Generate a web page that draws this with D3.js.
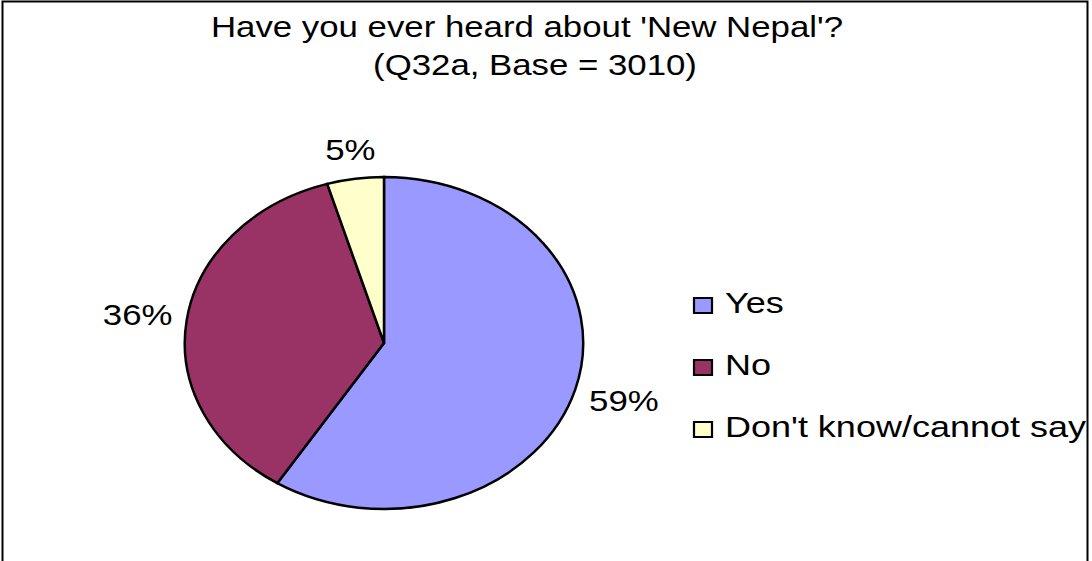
<!DOCTYPE html>
<html>
<head>
<meta charset="utf-8">
<script src="https://cdn.jsdelivr.net/npm/d3@7"></script>
<style>
  html, body { margin: 0; padding: 0; background: #fff; }
  svg { display: block; }
  text { font-family: "Liberation Sans", Arial, sans-serif; fill: #000; }
</style>
</head>
<body>
<svg id="chart" width="1092" height="561"></svg>
<script>
// ---- data ----
const categories = ["Yes", "No", "Don't know/cannot say"];
const values = [59.0, 36.4, 4.6];
const colors = ["#9999FF", "#993366", "#FFFFCC"];
const titleLines = ["Have you ever heard about 'New Nepal'?", "(Q32a, Base = 3010)"];

// ---- layout ----
const W = 1092, H = 561;
const SX = 1.2;               // horizontal stretch of the original picture
const cx = 384 / SX, cy = 343, R = 166;
const fontSize = 29;
const legendFont = 30;
const titleCenters = [527, 535];

const svg = d3.select("#chart");
svg.append("rect").attr("width", W).attr("height", H).attr("fill", "#fff");
// chart border
svg.append("rect")
  .attr("x", 2.5).attr("y", 1.5).attr("width", 1085).attr("height", 620)
  .attr("fill", "none").attr("stroke", "#000").attr("stroke-width", 2);

const g = svg.append("g").attr("transform", `scale(${SX},1)`);

// title
g.append("g").selectAll("text").data(titleLines).join("text")
  .attr("x", (d, i) => titleCenters[i] / SX)
  .attr("y", (d, i) => 37 + i * 38)
  .attr("text-anchor", "middle")
  .attr("font-size", fontSize)
  .text(d => d);

// pie
const pie = d3.pie().sort(null).value(d => d);
const arcs = pie(values);
const arc = d3.arc().innerRadius(0).outerRadius(R);
const pg = g.append("g").attr("transform", `translate(${cx},${cy})`);
pg.selectAll("path").data(arcs).join("path")
  .attr("d", arc)
  .attr("fill", (d, i) => colors[i])
  .attr("stroke", "#000")
  .attr("stroke-width", 2.5)
  .attr("stroke-linejoin", "miter")
  .attr("vector-effect", "non-scaling-stroke");

// labels placed outside the pie, box edge a fixed gap from the rim
const pct = d3.format(".0f");
const gap = 12, halfH = 17;
const labels = pg.selectAll("text.lbl").data(arcs).join("text")
  .attr("class", "lbl")
  .attr("font-size", fontSize)
  .attr("text-anchor", "middle")
  .text(d => pct(d.data) + "%");
labels.each(function(d) {
  const w = this.getComputedTextLength();
  const a = (d.startAngle + d.endAngle) / 2;
  const dx = Math.sin(a), dy = -Math.cos(a);
  const hw = w / 2;
  const ext = Math.min(Math.abs(dx) > 1e-6 ? hw / Math.abs(dx) : Infinity,
                       Math.abs(dy) > 1e-6 ? halfH / Math.abs(dy) : Infinity);
  const dist = R + gap + ext;
  d3.select(this)
    .attr("x", dx * dist)
    .attr("y", dy * dist + fontSize * 0.358);
});

// legend
const lg = g.append("g");
const legY0 = 313, legStep = 62;
const items = lg.selectAll("g").data(categories).join("g")
  .attr("transform", (d, i) => `translate(0,${legY0 + i * legStep})`);
items.append("rect")
  .attr("x", 694 / SX).attr("y", -15)
  .attr("width", 15).attr("height", 15)
  .attr("fill", (d, i) => colors[i])
  .attr("stroke", "#000").attr("stroke-width", 2.2)
  .attr("vector-effect", "non-scaling-stroke");
items.append("text")
  .attr("x", 725 / SX).attr("y", 0)
  .attr("font-size", legendFont)
  .text(d => d);
</script>
</body>
</html>
